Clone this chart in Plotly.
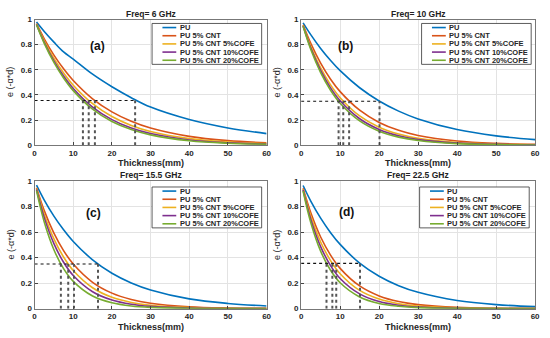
import plotly.graph_objects as go

# ---------------- data ----------------
thickness = [0.5, 2.5, 5, 7.5, 10, 15, 20, 25, 30, 40, 50, 60]

series_names = ["PU", "PU 5% CNT", "PU 5% CNT 5%COFE",
                "PU 5% CNT 10%COFE", "PU 5% CNT 20%COFE"]
colors = ["#0072BD", "#D95319", "#EDB120", "#7E2F8E", "#77AC30"]

freq_titles = ["Freq= 6 GHz", "Freq= 10 GHz", "Freq= 15.5 GHz", "Freq= 22.5 GHz"]
panel_labels = ["(a)", "(b)", "(c)", "(d)"]
panel_label_x = [16.3, 11.4, 15.2, 11.6]
panel_label_y = [0.79, 0.79, 0.75, 0.76]

# Freq = 6 GHz
a_pu     = [0.980, 0.905, 0.820, 0.742, 0.685, 0.565, 0.465, 0.378, 0.303, 0.204, 0.137, 0.092]
a_cnt    = [0.967, 0.847, 0.717, 0.608, 0.515, 0.369, 0.265, 0.190, 0.136, 0.070, 0.036, 0.019]
a_cofe5  = [0.964, 0.831, 0.691, 0.574, 0.477, 0.330, 0.228, 0.157, 0.109, 0.052, 0.025, 0.012]
a_cofe10 = [0.961, 0.819, 0.671, 0.550, 0.451, 0.303, 0.203, 0.136, 0.092, 0.041, 0.019, 0.008]
a_cofe20 = [0.959, 0.811, 0.659, 0.535, 0.434, 0.286, 0.188, 0.124, 0.082, 0.035, 0.015, 0.007]

# Freq = 10 GHz
b_pu     = [0.974, 0.878, 0.770, 0.676, 0.593, 0.457, 0.352, 0.271, 0.209, 0.124, 0.074, 0.044]
b_cnt    = [0.958, 0.808, 0.653, 0.527, 0.426, 0.278, 0.181, 0.118, 0.077, 0.033, 0.014, 0.006]
b_cofe5  = [0.953, 0.784, 0.615, 0.482, 0.378, 0.233, 0.143, 0.088, 0.054, 0.020, 0.008, 0.003]
b_cofe10 = [0.949, 0.771, 0.595, 0.458, 0.353, 0.210, 0.125, 0.074, 0.044, 0.016, 0.006, 0.002]
b_cofe20 = [0.947, 0.760, 0.578, 0.439, 0.334, 0.193, 0.111, 0.064, 0.037, 0.012, 0.004, 0.001]

# Freq = 15.5 GHz
c_pu     = [0.969, 0.852, 0.726, 0.619, 0.527, 0.383, 0.278, 0.202, 0.147, 0.077, 0.041, 0.021]
c_cnt    = [0.949, 0.769, 0.592, 0.455, 0.350, 0.207, 0.122, 0.072, 0.043, 0.015, 0.005, 0.002]
c_cofe5  = [0.942, 0.739, 0.547, 0.405, 0.299, 0.164, 0.089, 0.049, 0.027, 0.008, 0.002, 0.001]
c_cofe10 = [0.935, 0.714, 0.510, 0.364, 0.260, 0.133, 0.068, 0.035, 0.018, 0.005, 0.001, 0.000]
c_cofe20 = [0.926, 0.680, 0.462, 0.314, 0.214, 0.099, 0.046, 0.021, 0.010, 0.002, 0.000, 0.000]

# Freq = 22.5 GHz
d_pu     = [0.966, 0.842, 0.710, 0.598, 0.504, 0.357, 0.254, 0.180, 0.128, 0.064, 0.032, 0.016]
d_cnt    = [0.944, 0.750, 0.562, 0.422, 0.316, 0.178, 0.100, 0.056, 0.032, 0.010, 0.003, 0.001]
d_cofe5  = [0.937, 0.723, 0.523, 0.379, 0.274, 0.143, 0.075, 0.039, 0.021, 0.006, 0.002, 0.000]
d_cofe10 = [0.931, 0.698, 0.487, 0.340, 0.237, 0.116, 0.056, 0.027, 0.013, 0.003, 0.001, 0.000]
d_cofe20 = [0.923, 0.672, 0.451, 0.303, 0.203, 0.092, 0.041, 0.019, 0.008, 0.002, 0.000, 0.000]

panel_values = [
    [a_pu, a_cnt, a_cofe5, a_cofe10, a_cofe20],
    [b_pu, b_cnt, b_cofe5, b_cofe10, b_cofe20],
    [c_pu, c_cnt, c_cofe5, c_cofe10, c_cofe20],
    [d_pu, d_cnt, d_cofe5, d_cofe10, d_cofe20],
]

# threshold level and thickness at which each curve reaches it
levels = [0.355, 0.35, 0.35, 0.355]
crossings = [
    [12.5, 14.0, 15.6, 26.0],
    [9.6, 10.8, 12.3, 20.1],
    [6.8, 8.7, 10.2, 16.4],
    [6.5, 8.0, 9.0, 15.1],
]

x_ticks = [0, 10, 20, 30, 40, 50, 60]
y_ticks = [0, 0.2, 0.4, 0.6, 0.8, 1]

# ---------------- layout geometry (pixels) ----------------
W, H = 550, 338
boxes = [(33, 268, 16, 145), (303, 540, 16, 145),
         (33, 268, 182, 313), (303, 540, 182, 313)]
legend_boxes = [(152, 20), (425, 20), (152, 188), (423, 188)]

FONT = "Liberation Sans, Arial, sans-serif"
fig = go.Figure()

layout = dict(
    width=W, height=H, margin=dict(l=0, r=0, t=0, b=0),
    paper_bgcolor="white", plot_bgcolor="white", showlegend=False,
    font=dict(family=FONT, color="#262626"),
)
shapes, annotations = [], []

for p in range(4):
    xa = "x" if p == 0 else f"x{p+1}"
    ya = "y" if p == 0 else f"y{p+1}"
    xk = "xaxis" if p == 0 else f"xaxis{p+1}"
    yk = "yaxis" if p == 0 else f"yaxis{p+1}"
    x0, x1, y0, y1 = boxes[p]
    layout[xk] = dict(
        domain=[x0 / W, x1 / W], anchor=ya, range=[0, 60],
        tickvals=x_ticks, ticks="inside", ticklen=3, tickcolor="#444",
        showline=True, linecolor="#777", linewidth=1, mirror=True,
        showgrid=True, gridcolor="#e3e3e3", zeroline=False,
        tickfont=dict(size=8, family=FONT, weight=700, color="#262626"),
    )
    layout[yk] = dict(
        domain=[1 - y1 / H, 1 - y0 / H], anchor=xa, range=[0, 1],
        tickvals=y_ticks, ticktext=["0", "0.2", "0.4", "0.6", "0.8", "1"],
        ticks="inside", ticklen=3, tickcolor="#444",
        showline=True, linecolor="#777", linewidth=1, mirror=True,
        showgrid=True, gridcolor="#e3e3e3", zeroline=False,
        tickfont=dict(size=8, family=FONT, weight=700, color="#262626"),
    )

    # curves
    for s in range(5):
        fig.add_trace(go.Scatter(
            x=thickness, y=panel_values[p][s], mode="lines",
            line=dict(color=colors[s], width=1.6, shape="spline", smoothing=1.0),
            name=series_names[s], xaxis=xa, yaxis=ya,
        ))

    # dotted threshold guides
    lvl = levels[p]
    fig.add_trace(go.Scatter(
        x=[0, max(crossings[p])], y=[lvl, lvl], mode="lines",
        line=dict(color="#111", width=1.1, dash="dot"),
        xaxis=xa, yaxis=ya, hoverinfo="skip",
    ))
    for cx in crossings[p]:
        fig.add_trace(go.Scatter(
            x=[cx, cx], y=[0, lvl], mode="lines",
            line=dict(color="#555", width=2, dash="dot"),
            xaxis=xa, yaxis=ya, hoverinfo="skip",
        ))

    # titles
    annotations.append(dict(
        text=freq_titles[p], xref=f"{xa} domain", yref=f"{ya} domain",
        x=0.5, y=1, yanchor="bottom", xanchor="center", yshift=-1, showarrow=False,
        font=dict(size=8.5, family=FONT, weight=700, color="#222"),
    ))
    annotations.append(dict(
        text="Thickness(mm)", xref=f"{xa} domain", yref=f"{ya} domain",
        x=0.5, y=0, yanchor="middle", xanchor="center", yshift=-18, showarrow=False,
        font=dict(size=9, family=FONT, weight=700, color="#262626"),
    ))
    annotations.append(dict(
        text="e (-α*d)", xref=f"{xa} domain", yref=f"{ya} domain",
        x=0, y=0.5, xanchor="center", yanchor="middle", xshift=-24, textangle=-90,
        showarrow=False, font=dict(size=9, family=FONT, color="#262626"),
    ))
    annotations.append(dict(
        text=panel_labels[p], xref=xa, yref=ya,
        x=panel_label_x[p], y=panel_label_y[p], showarrow=False,
        font=dict(size=12, family=FONT, weight=700, color="#111"),
    ))

    # legend box drawn in paper space
    lx, ly = legend_boxes[p]
    lw, lh = 111, 42
    shapes.append(dict(
        type="rect", xref="paper", yref="paper",
        x0=lx / W, x1=(lx + lw) / W, y0=1 - (ly + lh) / H, y1=1 - ly / H,
        line=dict(color="#333", width=0.8), fillcolor="white", layer="above",
    ))
    step = lh / 5
    for s in range(5):
        cy = ly + step * (s + 0.5)
        shapes.append(dict(
            type="line", xref="paper", yref="paper",
            x0=(lx + 10.5) / W, x1=(lx + 24.5) / W, y0=1 - cy / H, y1=1 - cy / H,
            line=dict(color=colors[s], width=1.6), layer="above",
        ))
        annotations.append(dict(
            text=series_names[s], xref="paper", yref="paper",
            x=(lx + 26) / W, y=1 - cy / H, xanchor="left", yanchor="middle",
            showarrow=False, font=dict(size=7.5, family=FONT, weight=700, color="#262626"),
        ))

layout["shapes"] = shapes
layout["annotations"] = annotations
fig.update_layout(**layout)
fig.write_html("out.html", config={"displayModeBar": False},
               post_script="document.body.style.margin='0';")
